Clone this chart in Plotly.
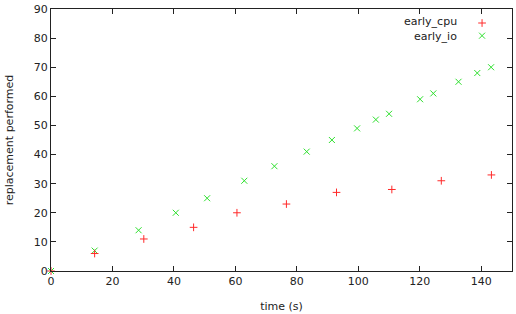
import plotly.graph_objects as go

cpu_t = [0, 14.2, 30.2, 46.4, 60.5, 76.6, 92.9, 110.9, 127.0, 143.3]
cpu_v = [0, 6, 11, 15, 20, 23, 27, 28, 31, 33]
io_t = [0, 14.2, 28.5, 40.6, 50.8, 62.9, 72.7, 83.2, 91.4, 99.6, 105.7, 110.0, 120.1, 124.4, 132.6, 138.7, 143.2]
io_v = [0, 7, 14, 20, 25, 31, 36, 41, 45, 49, 52, 54, 59, 61, 65, 68, 70]
series_names = ["early_cpu", "early_io"]
x_ticks = [0, 20, 40, 60, 80, 100, 120, 140]
y_ticks = [0, 10, 20, 30, 40, 50, 60, 70, 80, 90]

RED = "#ff2a2a"
GREEN = "#2ee02e"
FONT = dict(family="DejaVu Sans", size=11, color="#222222")
XSIZE = 6
PSIZE = 5.5

fig = go.Figure()
fig.add_trace(go.Scatter(x=io_t, y=io_v, mode="markers", name=series_names[1], cliponaxis=False,
                         marker=dict(symbol="x-thin", size=XSIZE, line=dict(color=GREEN, width=1), color=GREEN)))
fig.add_trace(go.Scatter(x=cpu_t, y=cpu_v, mode="markers", name=series_names[0], cliponaxis=False,
                         marker=dict(symbol="cross-thin", size=PSIZE, line=dict(color=RED, width=1), color=RED)))

# legend keys on an overlay axis (gnuplot style: text then symbol)
fig.add_trace(go.Scatter(x=[0.5], y=[0.72], xaxis="x2", yaxis="y2", mode="markers", showlegend=False,
                         hoverinfo="skip",
                         marker=dict(symbol="cross-thin", size=PSIZE, line=dict(color=RED, width=1))))
fig.add_trace(go.Scatter(x=[0.5], y=[0.28], xaxis="x2", yaxis="y2", mode="markers", showlegend=False,
                         hoverinfo="skip",
                         marker=dict(symbol="x-thin", size=XSIZE, line=dict(color=GREEN, width=1))))

annotations = []
for name, yy in zip(series_names, [20, 35]):
    annotations.append(dict(text=name, xref="paper", yref="paper", x=(460 - 51) / 462,
                            y=1 - (yy - 7) / 264, xanchor="right", yanchor="middle",
                            showarrow=False, font=FONT))

axis_common = dict(showline=True, linecolor="#222222", linewidth=1, mirror="ticks",
                   ticks="inside", ticklen=5, tickcolor="#222222", tickwidth=1,
                   showgrid=False, zeroline=False, tickfont=FONT)

fig.update_layout(
    width=516, height=314,
    margin=dict(l=51, r=3, t=7, b=43),
    plot_bgcolor="white", paper_bgcolor="white",
    showlegend=False,
    xaxis=dict(range=[0, 150], tickvals=x_ticks, title=dict(text="time (s)", font=FONT, standoff=15), **axis_common),
    yaxis=dict(range=[0, 90], tickvals=y_ticks, title=dict(text="replacement performed", font=FONT, standoff=17), **axis_common),
    xaxis2=dict(domain=[(476 - 51) / 462, (490 - 51) / 462], range=[0, 1], visible=False, anchor="y2"),
    yaxis2=dict(domain=[1 - (42 - 7) / 264, 1 - (13 - 7) / 264], range=[0, 1], visible=False, anchor="x2"),
    annotations=annotations,
)

fig.write_html("out.html")
